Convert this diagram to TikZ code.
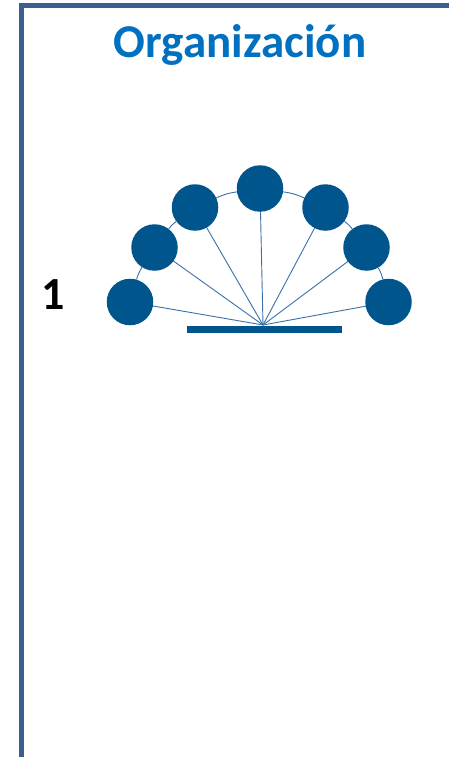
\documentclass[tikz,border=0pt]{standalone}
\usepackage{fontspec}
\setmainfont{Carlito}
\usetikzlibrary{backgrounds}
\definecolor{frame}{HTML}{3B5E8C}
\definecolor{dot}{HTML}{00558C}
\definecolor{spoke}{HTML}{3A70A8}
\definecolor{title}{HTML}{0070C0}
\begin{document}
\begin{tikzpicture}[x=1pt,y=-1pt,
  dotnode/.style={circle,fill=dot,minimum size=46.5pt,inner sep=0pt},
  spokeline/.style={draw=spoke,line width=0.9pt},
  arcline/.style={draw=spoke,line width=0.9pt}]
\useasboundingbox (0,0) rectangle (449,757);
\draw[frame,line width=5pt,line join=miter] (21.5,757) -- (21.5,5.5) -- (449,5.5);
\node[title,font=\fontsize{47}{50}\selectfont\bfseries] (t) at (240,45) {Organización};
\node[font=\fontsize{46}{50}\selectfont\bfseries,anchor=base] (one) at (53,309) {1};
\coordinate (hub) at (263,325);
\node[fill=dot,inner sep=0pt,minimum width=155pt,minimum height=7pt] (bar) at (264.5,329.5) {};
\node[dotnode] (d1) at (130,302) {};
\node[dotnode] (d2) at (154.5,247.5) {};
\node[dotnode] (d3) at (195,207.5) {};
\node[dotnode] (d4) at (260,188.5) {};
\node[dotnode] (d5) at (325.5,207.5) {};
\node[dotnode] (d6) at (366.5,247.5) {};
\node[dotnode] (d7) at (388.5,302) {};
\begin{scope}[on background layer]
\fill[white] (0,0) rectangle (449,757);
\draw[arcline] (d1) to[bend left=8] (d2);
\draw[arcline] (d2) to[bend left=8] (d3);
\draw[arcline] (d3) to[bend left=8] (d4);
\draw[arcline] (d4) to[bend left=8] (d5);
\draw[arcline] (d5) to[bend left=8] (d6);
\draw[arcline] (d6) to[bend left=8] (d7);
\foreach \i in {1,...,7} \draw[spokeline] (hub) -- (d\i.center);
\end{scope}
\end{tikzpicture}
\end{document}
